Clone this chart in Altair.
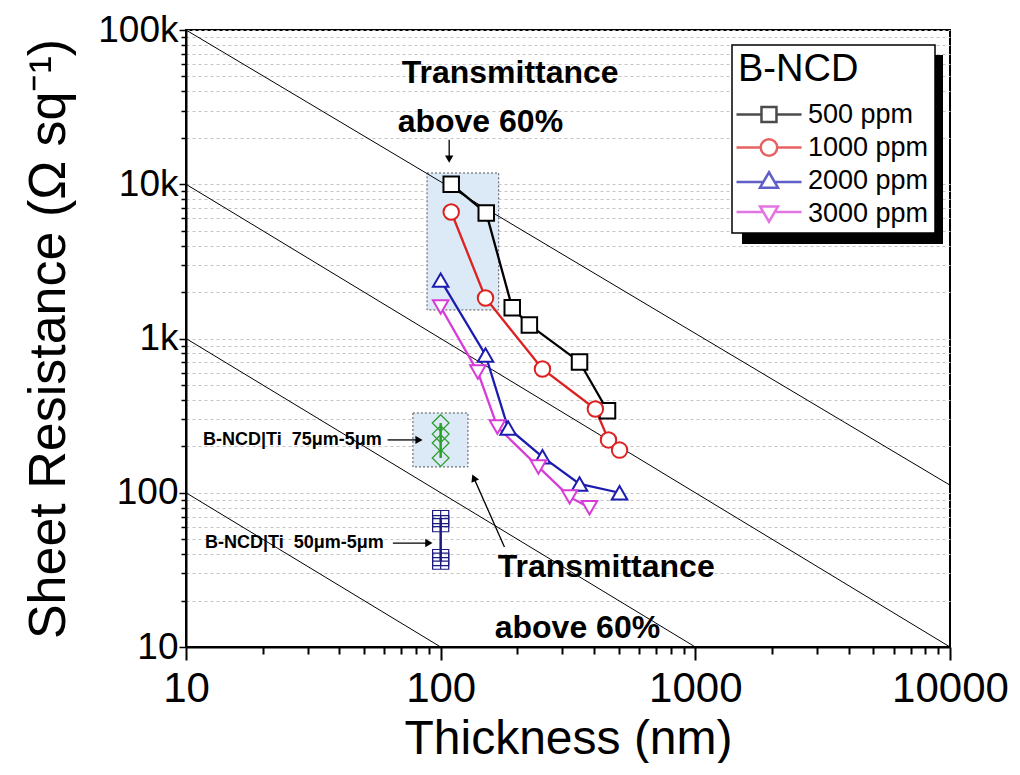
import altair as alt
import pandas as pd

# ---------------- data ----------------
series_names = ["500 ppm", "1000 ppm", "2000 ppm", "3000 ppm"]
series_colors = ["#000000", "#dd2020", "#1c1cb0", "#d83cd8"]
series_shapes = ["square", "circle", "triangle-up", "triangle-down"]

t_500 = [110, 151, 191, 223, 351, 452]
r_500 = [10000, 6510, 1580, 1225, 705, 340]
t_1000 = [110, 150, 251, 405, 456, 504]
r_1000 = [6610, 1830, 634, 349, 220, 189]
t_2000 = [100, 150, 184, 251, 351, 504]
r_2000 = [2390, 782, 263, 171, 114, 100]
t_3000 = [100, 140, 167, 242, 321, 384]
r_3000 = [1600, 606, 267, 147, 94, 80]

ti75_t = [100, 100, 100, 100]
ti75_r = [283, 240, 210, 168]
ti50_t = [100, 100, 100, 100]
ti50_r = [68, 63, 38, 36]

# constant sheet-resistance x thickness guide lines (start, end)
guide_id = ["g1", "g1", "g2", "g2", "g3", "g3", "g4", "g4"]
guide_t = [10, 10000, 10, 10000, 10, 1000, 10, 100]
guide_r = [100000, 112, 10000, 10, 1000, 10, 100, 10]

# shaded "transmittance above 60%" boxes
box_t1 = [88.4, 77.8]
box_t2 = [169, 128]
box_r1 = [1531, 147]
box_r2 = [11830, 329]

# annotations
note_text = ["Transmittance", "above 60%", "Transmittance", "above 60%",
             "B-NCD|Ti\u00a0\u00a075\u03bcm-5\u03bcm", "B-NCD|Ti\u00a0\u00a050\u03bcm-5\u03bcm"]
note_t = [70.3, 67.8, 167.5, 163, 11.66, 11.87]
note_r = [52600, 25400, 33.0, 13.3, 220, 47.2]
note_size = [32, 32, 32, 32, 18, 18]

arrow_t1 = [108, 61.9, 64.9, 178]
arrow_r1 = [19400, 220, 47.2, 44.5]
arrow_t2 = [108, 81.3, 88.9, 135.5]
arrow_r2 = [14800, 220, 47.2, 123]
arrow_angle = [180, 90, 90, 336]

x_ticks = [m * 10 ** e for e in range(1, 4) for m in range(1, 10)] + [10000]
y_ticks = [m * 10 ** e for e in range(1, 5) for m in range(1, 10)] + [100000]

# ---------------- tables ----------------
rows = []
for name, ts, rs in zip(series_names, [t_500, t_1000, t_2000, t_3000],
                        [r_500, r_1000, r_2000, r_3000]):
    for i, (t, r) in enumerate(zip(ts, rs)):
        rows.append({"series": name, "t": t, "r": r, "i": i})
df = pd.DataFrame(rows)

df75 = pd.DataFrame({"t": ti75_t, "r": ti75_r})
df50 = pd.DataFrame({"t": ti50_t, "r": ti50_r})
dfg = pd.DataFrame({"g": guide_id, "t": guide_t, "r": guide_r})
dfbox = pd.DataFrame({"t": box_t1, "t2": box_t2, "r": box_r1, "r2": box_r2})
dfnote = pd.DataFrame({"txt": note_text, "t": note_t, "r": note_r, "s": note_size})
dfarr = pd.DataFrame({"t": arrow_t1, "r": arrow_r1, "t2": arrow_t2, "r2": arrow_r2,
                      "a": arrow_angle})
dfleg = pd.DataFrame({"series": series_names, "t": [1] * 4, "r": [1000] * 4})

# ---------------- axes ----------------
major = "abs(log(datum.value)/LN10 - round(log(datum.value)/LN10)) < 0.001"

x_axis = alt.Axis(
    title="Thickness (nm)", values=x_ticks,
    labelExpr=f"{major} ? format(datum.value, 'd') : ''",
    labelOverlap=False, labelFlush=False, labelBound=False,
    tickSize={"condition": {"test": major, "value": 13}, "value": 7},
    tickWidth=2, tickColor="black", domainColor="black", domainWidth=2,
    labelFontSize=42, labelColor="black", labelPadding=8,
    titleFontSize=48, titleFontWeight="normal", titleColor="black", titlePadding=6,
    grid=False,
)
y_axis = alt.Axis(
    title="Sheet Resistance (\u03a9 sq\u207b\u00b9)", values=y_ticks,
    labelExpr=(f"{major} ? (datum.value >= 1000 ? format(datum.value/1000, 'd') + 'k'"
               f" : format(datum.value, 'd')) : ''"),
    labelOverlap=False, labelFlush=False, labelBound=False,
    tickSize={"condition": {"test": major, "value": 7}, "value": 5},
    tickWidth=1.5, tickColor="black", domainColor="black", domainWidth=2,
    labelFontSize=37, labelColor="black", labelPadding=1,
    titleFontSize=52, titleFontWeight="normal", titleColor="black", titlePadding=22,
    grid=True, gridColor="#c4c4c4", gridDash=[3, 3], gridWidth=1,
)

xs = alt.Scale(type="log", domain=[10, 10000])
ys = alt.Scale(type="log", domain=[10, 100000])


def X(f="t"):
    return alt.X(f"{f}:Q", scale=xs, axis=x_axis)


def Y(f="r"):
    return alt.Y(f"{f}:Q", scale=ys, axis=y_axis)


color_plain = alt.Color("series:N", scale=alt.Scale(domain=series_names, range=series_colors),
                        legend=None)

# ---------------- layers ----------------
boxes = alt.Chart(dfbox).mark_rect(fill="#dce9f6", stroke="#555555", strokeDash=[2, 2],
                                   strokeWidth=1).encode(
    x=X(), x2="t2:Q", y=Y(), y2="r2:Q")

guides = alt.Chart(dfg).mark_line(color="black", strokeWidth=1).encode(
    x=X(), y=Y(), detail="g:N")

lines = alt.Chart(df).mark_line(strokeWidth=2.3).encode(
    x=X(), y=Y(), color=color_plain, order="i:Q")

points = alt.Chart(df).mark_point(filled=False, fill="white", fillOpacity=1, opacity=1,
                                  strokeWidth=2, size=240).encode(
    x=X(), y=Y(), color=color_plain,
    shape=alt.Shape("series:N", scale=alt.Scale(domain=series_names, range=series_shapes),
                    legend=None))

l75 = alt.Chart(df75).mark_line(color="#2e9e2e", strokeWidth=2.5).encode(x=X(), y=Y())
p75 = alt.Chart(df75).mark_point(shape="diamond", color="#2e9e2e", filled=False,
                                 strokeWidth=1.3, size=280, opacity=1).encode(x=X(), y=Y())

sq_cross = "M-1,-1H1V1H-1ZM0,-1V1M-1,0H1"
l50 = alt.Chart(df50).mark_line(color="#1a1a80", strokeWidth=2.5).encode(x=X(), y=Y())
p50 = alt.Chart(df50).mark_point(shape=sq_cross, color="#1a1a80", filled=False,
                                 strokeWidth=1.2, size=260, opacity=1).encode(x=X(), y=Y())

notes = alt.Chart(dfnote).mark_text(align="left", baseline="middle", fontWeight="bold",
                                    color="black", font="Liberation Sans").encode(
    x=X(), y=Y(), text="txt:N", size=alt.Size("s:Q", scale=None))

arrows = alt.Chart(dfarr).mark_rule(color="black", strokeWidth=1.3).encode(
    x=X(), y=Y(), x2="t2:Q", y2="r2:Q")
heads = alt.Chart(dfarr).mark_point(shape="triangle", filled=True, color="black",
                                    size=70, opacity=1).encode(
    x=X("t2"), y=Y("r2"), angle=alt.Angle("a:Q", scale=None))

# legend (symbols drawn from custom paths: line with marker)
leg_paths = [
    "M-2,0H1.33M3.33,0H6.67M1.33,-1H3.33V1H1.33Z",
    "M-2,0H1.23M3.43,0H6.67M1.23,0A1.1,1.1,0,1,0,3.43,0A1.1,1.1,0,1,0,1.23,0Z",
    "M-2,0.2H1.57M3.09,0.2H6.67M2.33,-1.1L3.53,0.95L1.13,0.95Z",
    "M-2,-0.2H1.57M3.09,-0.2H6.67M2.33,1.1L3.53,-0.95L1.13,-0.95Z",
]
leg = alt.Legend(title="B-NCD", orient="none", legendX=546, legendY=15, padding=6,
                 fillColor="white", strokeColor="black",
                 titleFontSize=38, titleFontWeight="normal", titleColor="black",
                 titlePadding=12, titleLimit=400,
                 labelFontSize=27, labelColor="black", labelOffset=43, labelLimit=400,
                 symbolSize=225, symbolStrokeWidth=2.5, rowPadding=5)
legend_layer = alt.Chart(dfleg).mark_point(filled=False, strokeWidth=2, clip=True).encode(
    x=X(), y=Y(),
    color=alt.Color("series:N", scale=alt.Scale(domain=series_names, range=series_colors),
                    legend=leg),
    shape=alt.Shape("series:N", scale=alt.Scale(domain=series_names, range=leg_paths),
                    legend=leg))

shadow_df = pd.DataFrame({"k": [0]})
shadow_r = alt.Chart(shadow_df).mark_rect(color="black").encode(
    x=alt.value(700), x2=alt.value(757), y=alt.value(25), y2=alt.value(214))
shadow_b = alt.Chart(shadow_df).mark_rect(color="black").encode(
    x=alt.value(556), x2=alt.value(757), y=alt.value(180), y2=alt.value(214))

chart = alt.layer(
    boxes, guides, lines, points, l75, p75, l50, p50, arrows, heads, notes,
    shadow_r, shadow_b, legend_layer
).resolve_scale(
    color="independent", shape="independent"
).properties(
    width=764, height=617,
    autosize=alt.AutoSizeParams(type="none"),
    padding={"left": 178, "top": 22, "right": 62, "bottom": 116},
).configure(
    font="Liberation Sans"
).configure_view(
    stroke="black", strokeWidth=2
).configure_legend(
    strokeWidth=1.5
)

chart.save("out.html", embed_options={"renderer": "svg", "actions": False})
